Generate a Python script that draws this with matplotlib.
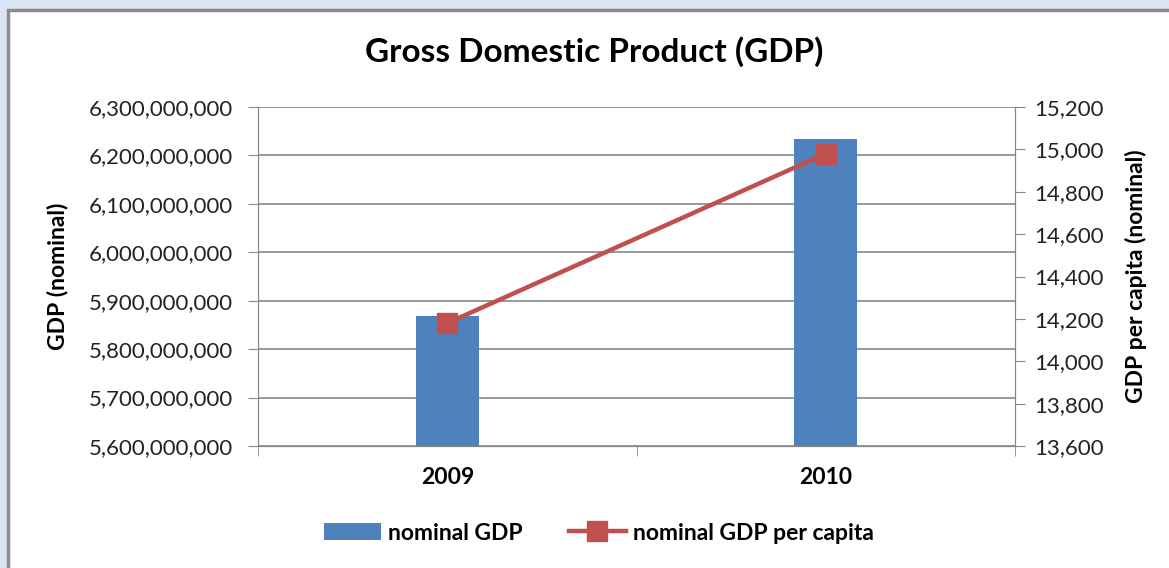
import numpy as np
import matplotlib.pyplot as plt
from matplotlib.patches import Rectangle
from matplotlib.ticker import FuncFormatter

years = ["2009", "2010"]
gdp_nominal = [5_868_000_000, 6_234_000_000]
gdp_per_capita = [14_180, 14_980]

bar_color = "#4f81bd"
line_color = "#c0504d"
grid_color = "#878787"

plt.rcParams["font.family"] = ["Lato", "DejaVu Sans"]

fig = plt.figure(figsize=(11.69, 5.68), dpi=100)
fig.patch.set_facecolor("#dbe5f1")
# white chart area with grey frame, kept behind the axes
fig.patches.append(Rectangle((8 / 1169, -0.05), 1.1, 1 - 10 / 568 + 0.05,
                             transform=fig.transFigure, facecolor="white",
                             edgecolor="#8c8c8c", linewidth=2.5, zorder=-5))

ax = fig.add_axes([258 / 1169, 1 - 446 / 568, 757 / 1169, 339 / 568])
ax.set_facecolor("none")
x = np.arange(len(years))
ax.bar(x, gdp_nominal, width=0.167, color=bar_color, zorder=2,
       label="nominal GDP")
ax.set_xlim(-0.5, 1.5)
ax.set_ylim(5.6e9, 6.3e9)
ax.set_yticks(np.arange(5.6e9, 6.3e9 + 1, 1e8))
ax.yaxis.set_major_formatter(FuncFormatter(lambda v, p: f"{v:,.0f}"))
ax.grid(axis="y", color=grid_color, linewidth=1.2, zorder=0)
ax.set_xticks(x)
ax.set_xticklabels(years, fontsize=16.5, fontweight="bold")
ax.set_xticks([-0.5, 0.5, 1.5], minor=True)
ax.tick_params(axis="x", which="major", length=0, pad=15)
ax.tick_params(axis="x", which="minor", length=7, color=grid_color)
ax.tick_params(axis="y", length=7, color=grid_color, labelsize=16,
               labelcolor="#222222", pad=11)
ax.set_ylabel("GDP (nominal)", fontsize=16.5, fontweight="bold")
ax.yaxis.set_label_coords(-0.25, 0.5)
ax.spines["top"].set_visible(False)
for side in ["left", "bottom", "right"]:
    ax.spines[side].set_color(grid_color)

ax2 = ax.twinx()
ax2.plot(x, gdp_per_capita, color=line_color, linewidth=3.2, marker="s",
         markersize=15, zorder=3, label="nominal GDP per capita")
ax2.set_ylim(13600, 15200)
ax2.set_yticks(np.arange(13600, 15201, 200))
ax2.yaxis.set_major_formatter(FuncFormatter(lambda v, p: f"{v:,.0f}"))
ax2.tick_params(axis="y", length=7, color=grid_color, labelsize=16,
                labelcolor="#222222", pad=7)
ax2.set_ylabel("GDP per capita (nominal)", fontsize=16.5, fontweight="bold")
ax2.yaxis.set_label_coords(1.145, 0.5)
ax2.spines["top"].set_visible(False)
for side in ["left", "bottom", "right"]:
    ax2.spines[side].set_color(grid_color)

fig.text(594 / 1169, 1 - 52 / 568, "Gross Domestic Product (GDP)",
         ha="center", va="center", fontsize=24, fontweight="bold")

handles = ax.get_legend_handles_labels()[0] + ax2.get_legend_handles_labels()[0]
labels = ["nominal GDP", "nominal GDP per capita"]
fig.legend(handles, labels, loc="center", bbox_to_anchor=(599 / 1169, 1 - 533 / 568),
           ncol=2, frameon=False, prop={"size": 16.5, "weight": "bold"},
           handlelength=2.5, handletextpad=0.3, columnspacing=2.0)

fig.savefig("out.png", dpi=100, facecolor=fig.get_facecolor())
